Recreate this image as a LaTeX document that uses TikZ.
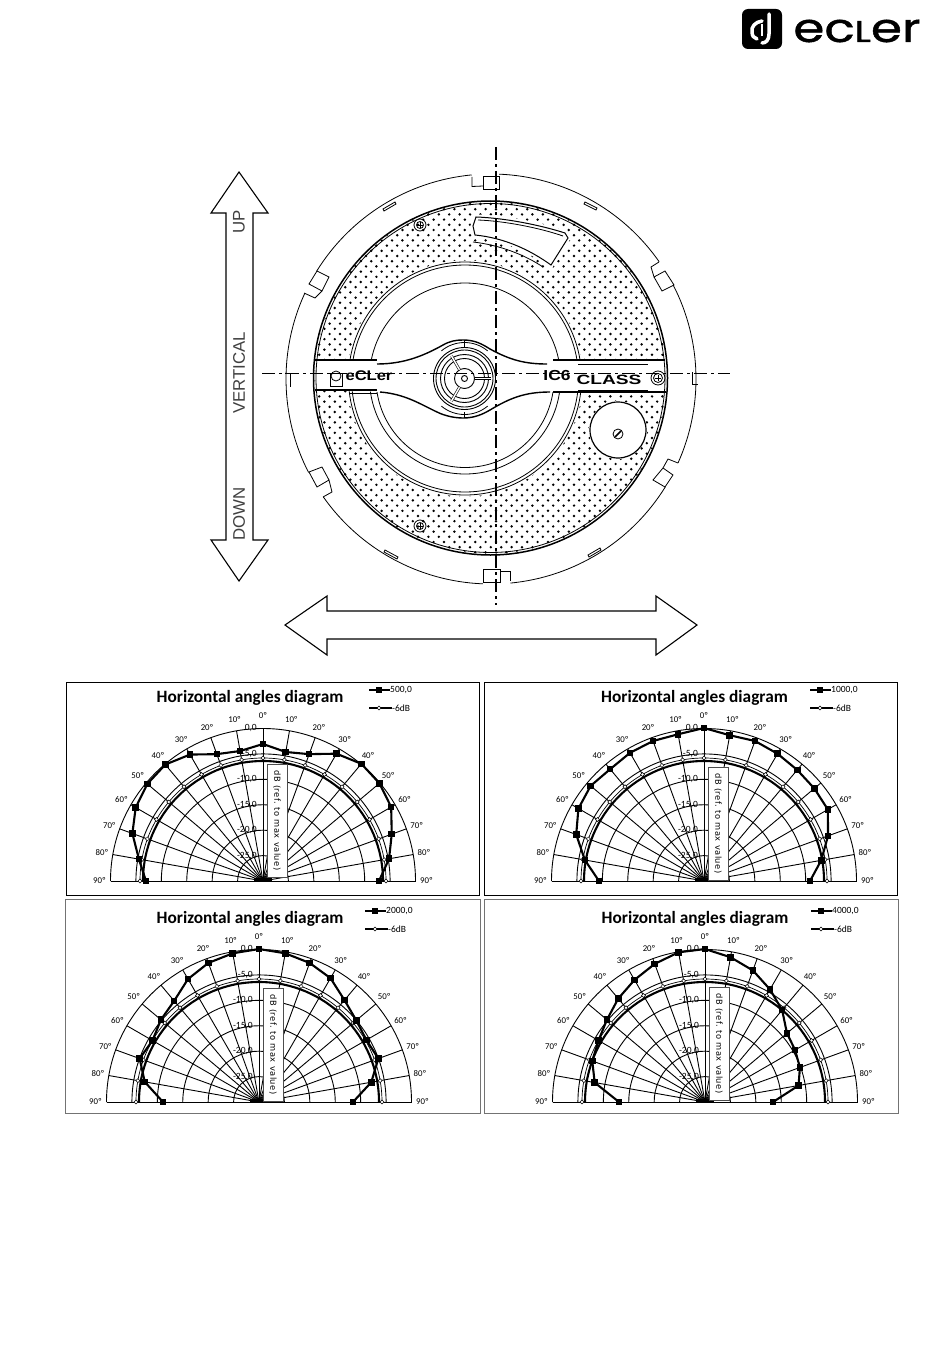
\documentclass[tikz,border=0pt]{standalone}
\usepackage{fontspec}
\usepackage{tikz}
\setmainfont{Liberation Sans}
\newfontfamily\chartFont{Carlito}
\newfontfamily\boxFont[LetterSpace=6]{DejaVu Sans}
\newfontfamily\logoFont[FakeBold=1]{Poppins}
\tikzset{
  ringLine/.style={line width=.8pt},
  grilleLine/.style={line width=1.5pt},
  axisLine/.style={line width=2.2pt,dash pattern=on 13pt off 4pt on 3pt off 4pt},
  bigArrow/.style={draw,fill=white,line width=1.1pt,line join=miter},
  dirLabel/.style={text=black!75,font=\fontsize{16.8}{18}\selectfont,rotate=90,inner sep=0pt},
  gridLine/.style={line width=.9pt},
  serieLine/.style={line width=2.1pt},
  chartFrame/.style={line width=.8pt},
  degLabel/.style={font=\chartFont\fontsize{8.8}{9}\selectfont,inner sep=0pt},
  dbLabel/.style={font=\chartFont\fontsize{9.5}{10}\selectfont,inner sep=0pt,anchor=east},
  legendLabel/.style={font=\chartFont\fontsize{9.5}{10}\selectfont,inner sep=0pt,anchor=west},
  chartTitle/.style={font=\chartFont\bfseries\fontsize{17.3}{18}\selectfont,inner sep=0pt},
  dbBox/.style={draw=black!70,fill=white,line width=.5pt,rotate=-90,inner sep=0pt,
    minimum width=113pt,minimum height=20pt,font=\boxFont\fontsize{8.3}{9}\selectfont}
}
\newcommand{\polarChart}[7]{%
\begin{scope}[shift={(#1,#2)},y=1pt]
\def\chartR{152.5}
\coordinate (#3C) at (0,0);
\foreach \ang in {0,10,...,180} \draw[gridLine] (#3C) -- (\ang:\chartR);
\foreach \ring in {1,...,6} {
  \pgfmathsetmacro\ringR{\ring*\chartR/6}
  \draw[gridLine] (\ringR,0) arc (0:180:\ringR);
}
\draw[gridLine] (-\chartR,0) -- (\chartR,0);
\fill (#3C) ++(-9,0) rectangle ++(18,3);
% -6 dB
\draw[line width=.7pt] (123,0) arc (0:180:123);
\draw[serieLine] (120,0) arc (0:180:120);
\foreach \ang in {0,10,...,180}
  \draw[line width=.5pt,fill=white] (\ang:123) ++(0,2) -- ++(2,-2) -- ++(-2,-2) -- ++(-2,2) -- cycle;
% series
\foreach \rad [count=\k from 0] in {#6} \coordinate (#3p\k) at ({180-10*\k}:\rad);
\draw[serieLine] (#3p0) \foreach \k in {1,...,18} {-- (#3p\k)};
\foreach \k in {0,...,18} \fill (#3p\k) ++(-3.3,-3.3) rectangle ++(6.6,6.6);
% labels
\node[degLabel] (#3deg0) at (90:165) {0º};
\foreach \deg in {10,20,...,90} {
  \node[degLabel] (#3degL\deg) at ({90+\deg}:163.5) {\deg º};
  \node[degLabel] (#3degR\deg) at ({90-\deg}:163.5) {\deg º};
}
\foreach \val in {0,-5,-10,-15,-20,-25} {
  \pgfmathsetmacro\ringR{\chartR*(1+\val/30)}
  \node[dbLabel] (#3db\val) at (-6,\ringR) {\val,0};
}
\node[dbBox] (#3box) at (14,#7) {dB (ref. to max value)};
\node[chartTitle] (#3title) at (#4,183) {Horizontal angles diagram};
\node[legendLabel] (#3serie) at (127,191) {#5};
\draw[serieLine] (106,191) -- (#3serie.west);
\fill (116,191) ++(-3,-3) rectangle ++(6,6);
\node[legendLabel] (#3six) at (129,173) {-6dB};
\draw[serieLine] (106,173) -- (#3six.west);
\draw[line width=.5pt,fill=white] (116,175) -- ++(2,-2) -- ++(-2,-2) -- ++(-2,2) -- cycle;
\end{scope}
}

\begin{document}
\begin{tikzpicture}[x=1pt,y=-1pt]
\useasboundingbox (0,0) rectangle (950,1359);
\coordinate (ringC) at (491,379);
\coordinate (grilleC) at (490.5,378);
\coordinate (woofC) at (465,378.5);
\coordinate (hubC) at (464.5,378.5);
\coordinate (tweeterC) at (618,430);
\def\bandShape{(316,360) -- (377,360) -- (377,364) .. controls (405,364) and (425,355) .. (443,345) .. controls (450,341) and (456,340) .. (463,340) .. controls (475,340) and (482,344) .. (490,349) .. controls (510,360) and (525,364) .. (547,364) -- (553,360) -- (665,360) -- (665,392) -- (550,392) .. controls (525,392) and (510,398) .. (490,410) .. controls (483,414) and (475,418) .. (463,418) .. controls (455,418) and (445,416) .. (437,412) .. controls (420,404) and (405,394) .. (380,392) -- (316,390) -- cycle}
\def\windowShape{(476,217) .. controls (505,218) and (540,225) .. (565,233) -- (568,238) -- (551,265) .. controls (530,250) and (505,238) .. (475,235) -- (473,226) -- cycle}
%logo
\fill[rounded corners=6pt] (742,9) rectangle (782,49);
\draw[white,line width=3.5pt,line cap=round] (769,14) -- (769,34) .. controls (769,40) and (766,43) .. (762,43);
\draw[white,line width=3.5pt,line cap=round] (762,21) .. controls (755,22) and (751,27) .. (752,32) .. controls (752,36) and (754,38) .. (757,39);
\draw[white,line width=2pt] (762,24) -- (762,36);
\node[xscale=1.25,inner sep=0pt,font=\logoFont\fontsize{40}{40}\selectfont] (eclerWord) at (857,31) {ec{\fontsize{30}{30}\selectfont L}er};
%outer ring
\foreach \from/\to in {-87.7/-34.9,-27.2/24.2,31.8/84.6,92.3/144.9,152.9/204.7,211.8/264.6}
  \draw[ringLine] (ringC) ++(\from:205) arc (\from:\to:205);
\draw[ringLine] (472,177) -- (472,186.5) -- (483,186);
\draw[ringLine] (483,176) rectangle (499,189);
\draw[ringLine] (659,262) -- (651,267) -- (654,277) -- (665,271) -- (674,285) -- (662,291) -- (654,277);
\draw[ringLine] (678,463) -- (668,459) -- (663,468) -- (673,475) -- (665,487) -- (653,480) -- (663,468);
\draw[ringLine] (510,581) -- (510,571) -- (500,571);
\draw[ringLine] (483,569) rectangle (500,582);
\draw[ringLine] (323,497) -- (332,492) -- (329,480) -- (317,487) -- (309,472) -- (322,467) -- (329,480);
\draw[ringLine] (304,293) -- (315,298) -- (322,291) -- (309,284) -- (317,271) -- (329,277) -- (322,291);
\draw[ringLine] (383,209) -- (395,202) -- (396,204) -- (384,211) -- cycle;
\draw[ringLine] (585,202) -- (597,208) -- (596,210) -- (584,204) -- cycle;
\draw[ringLine] (385,550) -- (398,557) -- (397,559) -- (384,552) -- cycle;
\draw[ringLine] (588,555) -- (600,548) -- (601,550) -- (589,557) -- cycle;
\draw[ringLine] (285,373) -- (295,373) (290,373) -- (290,387);
\draw[ringLine] (692,372) -- (692,384) -- (698,384);
%grille
\begin{scope}
  \clip (grilleC) circle (176);
  \foreach \row in {0,...,68}
    \foreach \col in {0,...,34}
      \fill ({314+\col*10.4+mod(\row,2)*5.2},{204+\row*5.2}) circle (1.35);
  \fill[white] (woofC) circle (118);
  \filldraw[white,line width=5pt] \windowShape;
  \fill[white] (tweeterC) circle (29);
\end{scope}
\draw[ringLine] (woofC) circle (116.5);
\draw[ringLine] (woofC) circle (113.5);
\draw[ringLine] (woofC) circle (95.5);
\draw[ringLine] (woofC) ++(0:89) arc (0:180:89);
\fill[white] \bandShape;
\draw[line width=1.4pt] (315,360) -- (377,360) (553,360) -- (665,360);
\draw[ringLine] (578,364) -- (648,364);
\draw[line width=1.4pt] (377,364) .. controls (405,364) and (425,355) .. (443,345) .. controls (450,341) and (456,340) .. (463,340) .. controls (475,340) and (482,344) .. (490,349) .. controls (510,360) and (525,364) .. (547,364);
\draw[line width=1.4pt] (315,390) -- (377,390) (553,392) -- (666,392);
\draw[ringLine] (350,393) -- (377,393) (578,390) -- (648,390);
\draw[line width=1.4pt] (380,392) .. controls (405,394) and (420,404) .. (437,412) .. controls (445,416) and (455,418) .. (463,418) .. controls (475,418) and (483,414) .. (490,410) .. controls (510,398) and (525,392) .. (550,392);
\draw[grilleLine] (grilleC) circle (177);
\draw[ringLine] (grilleC) circle (174.5);
%hub
\fill[white] (hubC) circle (31);
\foreach \hubR in {31,28.5,24,20,10}
  \draw[line width=.9pt] (hubC) circle (\hubR);
\draw[line width=.9pt] (hubC) circle (3);
\foreach \ang in {0,120,240}
  \draw[double=white,double distance=1.5pt,line width=.6pt] (hubC) ++(\ang:10) -- ++(\ang:16);
\draw[ringLine] (hubC) ++(-130:36) arc (-130:-50:36);
\draw[ringLine] (hubC) ++(50:36) arc (50:130:36);
\draw[ringLine] (464,340) -- (464,347) (464,412) -- (464,418);
%window
\draw[line width=1pt] \windowShape;
\draw[ringLine] (478,220) .. controls (505,221) and (540,228) .. (563,236);
\draw[ringLine] (473,242) .. controls (500,245) and (525,255) .. (543,267);
%tweeter
\draw[line width=1.2pt] (tweeterC) circle (28);
\draw[ringLine] (618,434) circle (5);
\draw[line width=1.5pt] (615,437) -- (621,431);
%screws
\foreach \sx/\sy/\sr in {420/225/6,420/526/6,658/378/7} {
  \draw[ringLine] (\sx,\sy) circle (\sr);
  \draw[ringLine] (\sx,\sy) circle (\sr-2.5);
  \draw[ringLine] (\sx-3,\sy) -- (\sx+3,\sy) (\sx,\sy-3) -- (\sx,\sy+3);
}
%axes
\coordinate (axisTop) at (496,147);
\coordinate (axisBottom) at (496,605);
\coordinate (axisLeft) at (262,373.5);
\coordinate (axisRight) at (730,373.5);
\draw[axisLine] (axisTop) -- (axisBottom);
\draw[axisLine,line width=1.5pt] (axisLeft) -- (axisRight);
%band texts
\draw[ringLine] (330,373) rectangle (342,386);
\draw[ringLine] (336,376) circle (5);
\node[inner sep=0pt,xscale=1.18,font=\bfseries\fontsize{14}{14}\selectfont] (leftBrand) at (369,376) {eCLer};
\node[inner sep=0pt,xscale=1.2,font=\bfseries\fontsize{14.5}{14}\selectfont] (modelText) at (557,376) {IC6};
\node[inner sep=0pt,xscale=1.42,font=\bfseries\fontsize{13.5}{14}\selectfont] (classText) at (609,379.5) {CLASS};
%arrows
\draw[bigArrow] (239,172) -- (268,213) -- (253,213) -- (253,540) -- (268,540) -- (239,581) -- (211,540) -- (226,540) -- (226,213) -- (211,213) -- cycle;
\draw[bigArrow] (285,625) -- (327,596) -- (327,611) -- (656,611) -- (656,596) -- (697,625) -- (656,655) -- (656,639) -- (327,639) -- (327,655) -- cycle;
\node[dirLabel] (upText) at (239,222) {UP};
\node[dirLabel] (verticalText) at (239,373) {VERTICAL};
\node[dirLabel] (downText) at (239,514) {DOWN};
%charts
\draw[chartFrame] (66,682) rectangle (479.5,895.5);
\draw[chartFrame] (484,682) rectangle (897,895);
\draw[chartFrame,black!55] (65,899) rectangle (480,1113);
\draw[chartFrame,black!55] (484,899) rectangle (898.5,1113);
\polarChart{263}{881}{chartA}{-13}{500,0}{117,126,139,147,151,152,146,135,132,137,131,135,147,153,152,148,137,128,116}{60.5}
\polarChart{704}{881}{chartB}{-9.5}{1000,0}{105,121,136,145,148,146,148,149,149,153,148,149,147,145,144,143,132,119,106}{57.5}
\polarChart{259}{1102}{chartC}{-9}{2000,0}{96,116,127,123,128,132,142,148,151,153,151,148,143,133,127,124,127,114,94}{57.5}
\polarChart{705}{1102}{chartD}{-10}{4000,0}{86,112,120,123,128,135,141,147,152,153,147,140,130,120,107,104,101,95,68}{58.5}
\end{tikzpicture}
\end{document}
